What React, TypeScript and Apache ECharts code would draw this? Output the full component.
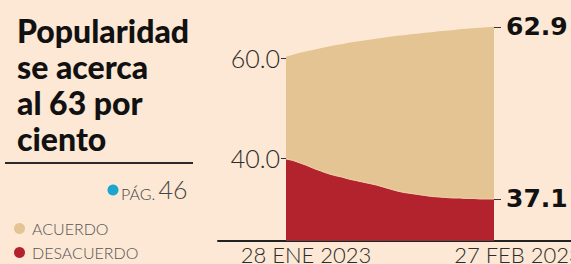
import React, { useEffect, useRef } from "react";
import * as echarts from "echarts";

// Daily categories (28 Jan 2023 - 27 Feb 2023)
const dates = [
  "28 ENE 2023", "29 ENE 2023", "30 ENE 2023", "31 ENE 2023",
  "1 FEB 2023", "2 FEB 2023", "3 FEB 2023", "4 FEB 2023", "5 FEB 2023",
  "6 FEB 2023", "7 FEB 2023", "8 FEB 2023", "9 FEB 2023", "10 FEB 2023",
  "11 FEB 2023", "12 FEB 2023", "13 FEB 2023", "14 FEB 2023", "15 FEB 2023",
  "16 FEB 2023", "17 FEB 2023", "18 FEB 2023", "19 FEB 2023", "20 FEB 2023",
  "21 FEB 2023", "22 FEB 2023", "23 FEB 2023", "24 FEB 2023", "25 FEB 2023",
  "26 FEB 2023", "27 FEB 2023",
];

// Plotted curve heights as drawn in the graphic
const acuerdo = [
  60.3, 60.7, 61.1, 61.4, 61.7, 62.0, 62.3, 62.6, 62.8, 63.1, 63.3,
  63.5, 63.7, 63.9, 64.1, 64.3, 64.5, 64.6, 64.8, 64.9, 65.1, 65.2,
  65.4, 65.5, 65.6, 65.8, 65.9, 66.0, 66.1, 66.2, 66.3,
];
const desacuerdo = [
  39.9, 39.6, 39.1, 38.6, 38.0, 37.5, 37.0, 36.6, 36.3, 35.9, 35.6,
  35.3, 35.0, 34.7, 34.3, 33.9, 33.5, 33.2, 33.0, 32.8, 32.6, 32.4,
  32.3, 32.2, 32.1, 32.1, 32.0, 32.0, 31.9, 31.9, 31.9,
];

// Reported final values shown at the right
const endLabels = ["62.9", "37.1"];
// Left axis tick values
const leftTicks = [40, 60];

const seriesNames = ["ACUERDO", "DESACUERDO"];
const titleText = "Popularidad\nse acerca\nal 63 por\nciento";

const BG = "#fce8d4";
const TAN = "#e3c492";
const RED = "#b2232e";
const BLUE = "#1aa6cf";
const LIGHT = { fontFamily: "Lato", fontWeight: 300 };

export default function App() {
  const ref = useRef<HTMLDivElement>(null);

  useEffect(() => {
    document.body.style.margin = "0";
    const chart = echarts.init(ref.current!, null, { renderer: "svg" });
    const lastIdx = dates.length - 1;
    const endPos = [acuerdo[lastIdx], desacuerdo[lastIdx]];
    const yMin = 23.6;
    const yMax = 70;

    chart.setOption({
      animation: false,
      backgroundColor: BG,
      title: {
        text: titleText,
        left: 12,
        top: 7,
        padding: [5, 5, 5, 5],
        textStyle: {
          fontFamily: "Lato",
          fontWeight: 900,
          fontSize: 32,
          lineHeight: 36,
          color: "#111",
        },
      },
      legend: {
        orient: "vertical",
        left: 14,
        top: 220,
        padding: 0,
        itemWidth: 11,
        itemHeight: 11,
        itemGap: 7,
        icon: "circle",
        data: [
          { name: seriesNames[0], itemStyle: { color: TAN } },
          { name: seriesNames[1], itemStyle: { color: RED } },
        ],
        textStyle: {
          ...LIGHT,
          fontSize: 16,
          lineHeight: 17,
          color: "#555",
          padding: [0, 0, 0, 2],
        },
      },
      graphic: [
        {
          type: "line",
          shape: { x1: 5, y1: 163, x2: 193, y2: 163 },
          style: { stroke: "#2a2a2a", lineWidth: 2 },
        },
        {
          type: "circle",
          shape: { cx: 113, cy: 190, r: 5.5 },
          style: { fill: BLUE },
        },
        {
          type: "text",
          x: 121,
          y: 189,
          style: {
            text: "{a|PÁG.} {b|46}",
            verticalAlign: "middle",
            rich: {
              a: { ...LIGHT, fontSize: 16, fill: "#444", verticalAlign: "bottom" },
              b: { ...LIGHT, fontSize: 25, fill: "#444" },
            },
          },
        },
      ],
      grid: [
        { left: 286, right: 77, top: 8.3, bottom: 23.5, outerBoundsMode: "none", containLabel: false },
        { left: 218, right: 0, top: 8.3, bottom: 23.5, outerBoundsMode: "none", containLabel: false },
      ],
      xAxis: [
        {
          type: "category",
          gridIndex: 0,
          data: dates,
          boundaryGap: false,
          axisLine: { show: false },
          axisTick: { show: false },
          splitLine: { show: false },
          axisLabel: {
            interval: (i: number) => i === 0 || i === lastIdx,
            formatter: (v: string, i: number) => (i === lastIdx ? `{e|${v}}` : v),
            ...LIGHT,
            fontSize: 22,
            color: "#2b2b2b",
            margin: 3,
            padding: [0, 0, 0, 40],
            rich: {
              e: { ...LIGHT, fontSize: 22, color: "#2b2b2b", padding: [0, 0, 0, 8] },
            },
          },
        },
        {
          type: "value",
          gridIndex: 1,
          min: 0,
          max: 1,
          axisLine: { show: true, onZero: false, lineStyle: { color: "#222", width: 2 } },
          axisTick: { show: false },
          axisLabel: { show: false },
          splitLine: { show: false },
        },
      ],
      yAxis: [
        {
          type: "value",
          gridIndex: 0,
          position: "left",
          min: yMin,
          max: yMax,
          axisLine: { show: false },
          splitLine: { show: false },
          axisTick: {
            show: true,
            customValues: leftTicks,
            length: 5,
            lineStyle: { color: "#333", width: 1 },
          },
          axisLabel: {
            customValues: leftTicks,
            formatter: (v: number) => v.toFixed(1),
            ...LIGHT,
            fontSize: 25,
            color: "#2b2b2b",
            margin: 6,
          },
        },
        {
          type: "value",
          gridIndex: 0,
          position: "right",
          min: yMin,
          max: yMax,
          axisLine: { show: false },
          splitLine: { show: false },
          axisTick: {
            show: true,
            customValues: endPos,
            length: 7,
            lineStyle: { color: "#333", width: 1 },
          },
          axisLabel: {
            customValues: endPos,
            formatter: (v: number) => {
              const i = endPos.findIndex((p) => Math.abs(p - v) < 1e-6);
              return i >= 0 ? endLabels[i] : "";
            },
            fontFamily: "DejaVu Sans",
            fontWeight: "bold",
            fontSize: 25,
            color: "#111",
            margin: 12,
          },
        },
        {
          type: "value",
          gridIndex: 1,
          show: false,
          min: 0,
          max: 1,
        },
      ],
      series: [
        {
          name: seriesNames[0],
          type: "line",
          xAxisIndex: 0,
          yAxisIndex: 0,
          data: acuerdo,
          symbol: "none",
          color: TAN,
          lineStyle: { width: 0, color: TAN },
          itemStyle: { color: TAN },
          areaStyle: { color: TAN, opacity: 1, origin: "start" },
          z: 1,
        },
        {
          name: seriesNames[1],
          type: "line",
          xAxisIndex: 0,
          yAxisIndex: 0,
          data: desacuerdo,
          symbol: "none",
          color: RED,
          lineStyle: { width: 1, color: "#f2d2b0" },
          itemStyle: { color: RED },
          areaStyle: { color: RED, opacity: 1, origin: "start" },
          z: 2,
        },
      ],
    });

    return () => chart.dispose();
  }, []);

  return <div ref={ref} style={{ width: 571, height: 264 }} />;
}
